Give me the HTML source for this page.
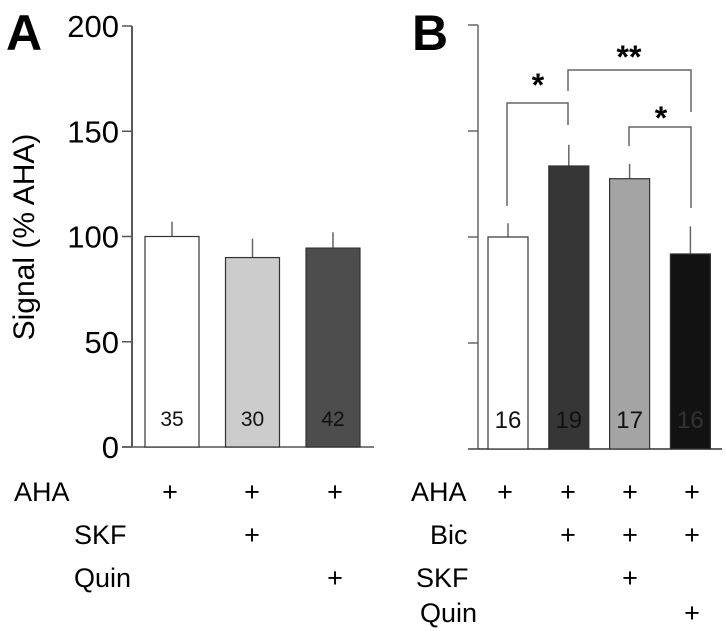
<!DOCTYPE html>
<html><head><meta charset="utf-8"><style>
body{margin:0;background:#fff;}
svg{display:block;font-family:"Liberation Sans",sans-serif;}
</style></head><body>
<svg id="chart" width="726" height="631" viewBox="0 0 726 631">
<text x="6" y="50" font-size="50" font-weight="bold">A</text>
<text x="412" y="50" font-size="50" font-weight="bold">B</text>
<text transform="translate(34,237) rotate(-90)" text-anchor="middle" font-size="30">Signal (% AHA)</text>
<g id="axA"></g>
<g id="axB"></g>
<g id="barsA"></g>
<g id="barsB"></g>
<g id="sig" stroke="#666" stroke-width="1.5" fill="none">
<path d="M507,206 V103 H568 V125"/>
<path d="M568,91 V70 H691 V112"/>
<path d="M629,146 V127 H691 V208"/>
</g>
<text x="538" y="96" font-size="32" font-weight="bold" text-anchor="middle">*</text>
<text x="629" y="68" font-size="32" font-weight="bold" text-anchor="middle">**</text>
<text x="661" y="129" font-size="32" font-weight="bold" text-anchor="middle">*</text>
<g font-size="27">
<text x="14" y="501">AHA</text>
<text x="74" y="544">SKF</text>
<text x="74" y="587">Quin</text>
<text x="170" y="501" text-anchor="middle">+</text><text x="252" y="501" text-anchor="middle">+</text><text x="335" y="501" text-anchor="middle">+</text>
<text x="252" y="544" text-anchor="middle">+</text>
<text x="335" y="587" text-anchor="middle">+</text>
<text x="411" y="501">AHA</text>
<text x="430" y="544">Bic</text>
<text x="416" y="587">SKF</text>
<text x="420" y="622">Quin</text>
<text x="505" y="501" text-anchor="middle">+</text><text x="568" y="501" text-anchor="middle">+</text><text x="630" y="501" text-anchor="middle">+</text><text x="692" y="501" text-anchor="middle">+</text>
<text x="568" y="544" text-anchor="middle">+</text><text x="630" y="544" text-anchor="middle">+</text><text x="692" y="544" text-anchor="middle">+</text>
<text x="630" y="587" text-anchor="middle">+</text>
<text x="692" y="622" text-anchor="middle">+</text>
</g>
</svg>
<script>
const ticks=[0,50,100,150,200];
const tickLabels=["0","50","100","150","200"];
const aValues=[100,90,94.5];
const aErrors=[7,9,7.5];
const aN=["35","30","42"];
const bValues=[100,133.5,127.5,92];
const bErrors=[6.5,10,7,13];
const bN=["16","19","17","16"];
const NS="http://www.w3.org/2000/svg";
function mk(parent,tag,attrs){const e=document.createElementNS(NS,tag);for(const k in attrs)e.setAttribute(k,attrs[k]);document.getElementById(parent).appendChild(e);return e;}
const yA=v=>447-v*421/200;
const yB=v=>449-v*424/200;
let l=mk('axA','line',{x1:132,y1:yA(200),x2:132,y2:yA(0),stroke:'#222','stroke-width':1.5});

l=mk('axA','line',{x1:122,y1:yA(0),x2:374,y2:yA(0),stroke:'#555','stroke-width':1.5});

ticks.forEach((t,i)=>{
  const tk=mk('axA','line',{x1:122,y1:yA(t),x2:132,y2:yA(t),stroke:'#555','stroke-width':1.5});
  
  const tx=mk('axA','text',{x:119,y:yA(t)+11,'text-anchor':'end','font-size':31});
  tx.textContent=tickLabels[i];
  
});
l=mk('axB','line',{x1:478,y1:yB(200),x2:478,y2:yB(0),stroke:'#666','stroke-width':1.5});

l=mk('axB','line',{x1:468,y1:yB(0),x2:722,y2:yB(0),stroke:'#333','stroke-width':1.5});

ticks.forEach(t=>{
  const tk=mk('axB','line',{x1:468,y1:yB(t),x2:478,y2:yB(t),stroke:'#666','stroke-width':1.5});
  
});
function bars(g,vals,errs,ns,y,x0,w,step,fills,txt,fs){
  vals.forEach((v,i)=>{
    const x=x0+i*step,cx=x+w/2;
    const e=mk(g,'line',{x1:cx,y1:y(v+errs[i]),x2:cx,y2:y(v),stroke:'#666','stroke-width':1.5});
    
    const r=mk(g,'rect',{x:x,y:y(v),width:w,height:y(0)-y(v),fill:fills[i],stroke:'#333','stroke-width':1.2});
    
    const t=mk(g,'text',{x:cx,y:y(0)-21,'text-anchor':'middle','font-size':fs,fill:txt[i]});
    t.textContent=ns[i];
    
  });
}
bars('barsA',aValues,aErrors,aN,yA,145,54,80.5,['#fff','#cccccc','#4d4d4d'],['#111','#111','#111'],21);
bars('barsB',bValues,bErrors,bN,yB,488,40,60.8,['#fff','#363636','#a4a4a4','#121212'],['#111','#111','#111','#333'],24);
</script>
</body></html>
